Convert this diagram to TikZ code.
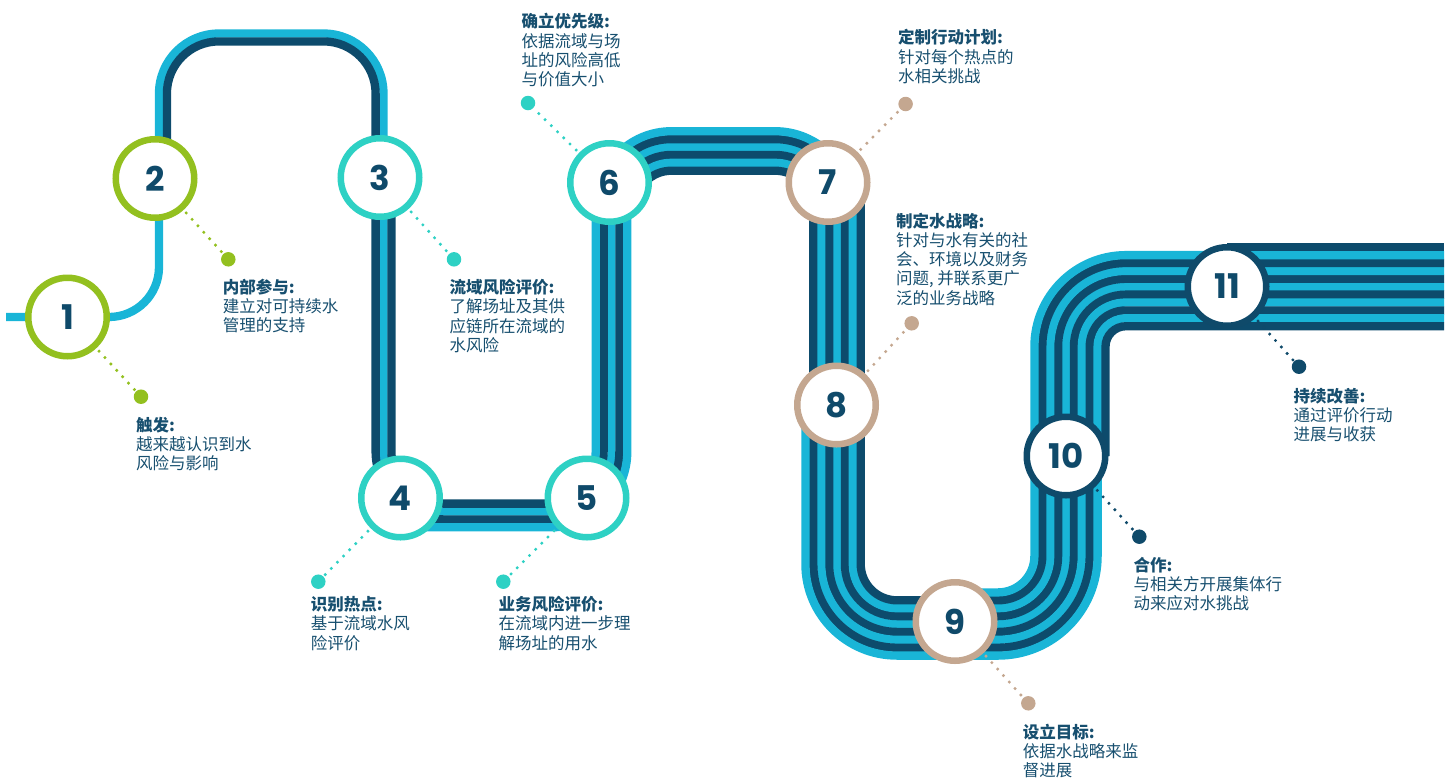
\documentclass[tikz,border=0pt]{standalone}
\usepackage{fontspec}
\setmainfont{Noto Sans CJK SC}
\newfontfamily\numfont{Poppins}
\usetikzlibrary{calc}
\definecolor{lb}{HTML}{19B5D7}
\definecolor{db}{HTML}{0D4B6C}
\definecolor{gr}{HTML}{93C01F}
\definecolor{tl}{HTML}{2ED1C4}
\definecolor{tn}{HTML}{C4A790}
\definecolor{nv}{HTML}{0F4A6A}
\definecolor{tx}{HTML}{174F6F}

\newcommand\laneoff{0}
% corner: name, cx, cy, ux, uy, vx, vy, R
\newcommand\mkc[8]{%
  \pgfmathsetmacro\cpx{#2+(\laneoff)*(-(#5)-(#7))}%
  \pgfmathsetmacro\cpy{#3+(\laneoff)*((#4)+(#6))}%
  \pgfmathsetmacro\crr{#8-(\laneoff)*((#4)*(#7)-(#5)*(#6))}%
  \coordinate (#1a) at ({\cpx-\crr*(#4)},{\cpy-\crr*(#5)});
  \coordinate (#1p) at ({\cpx-0.4477*\crr*(#4)},{\cpy-0.4477*\crr*(#5)});
  \coordinate (#1q) at ({\cpx+0.4477*\crr*(#6)},{\cpy+0.4477*\crr*(#7)});
  \coordinate (#1b) at ({\cpx+\crr*(#6)},{\cpy+\crr*(#7)});
}
\newcommand\setcorners{%
  \mkc{ca}{159}{317}{1}{0}{0}{-1}{50}
  \mkc{cb}{159}{33.5}{0}{-1}{1}{0}{60}
  \mkc{cc}{383.5}{33.5}{1}{0}{0}{1}{60}
  \mkc{cd}{383.5}{511.5}{0}{1}{1}{0}{60}
  \mkc{ce}{611.5}{511.5}{1}{0}{0}{-1}{60}
  \mkc{cf}{611.5}{147}{0}{-1}{1}{0}{60}
  \mkc{cg}{837}{147}{1}{0}{0}{1}{62}
  \mkc{ch}{837}{624}{0}{1}{1}{0}{60}
  \mkc{ci}{1066}{624}{1}{0}{0}{-1}{68}
  \mkc{cj}{1066}{286.7}{0}{-1}{1}{0}{60}
}
\newcommand\C[1]{-- (#1a) .. controls (#1p) and (#1q) .. (#1b)}
\newcommand\lane[4]{%
  \renewcommand\laneoff{#2}\setcorners
  \draw[lanestroke, #1] (#3) #4 -- ({1444},{286.7+(#2)});
}

\begin{document}
\begin{tikzpicture}[x=1pt, y=-1pt,
  lanestroke/.style={line width=8.3pt},
  stepring/.style={circle, draw=#1, line width=6.5pt, fill=white, minimum size=78.5pt, inner sep=0pt,
    font=\numfont\bfseries\fontsize{34}{34}\selectfont, text=nv},
  dotline/.style={line width=3.4pt, line cap=round, dash pattern=on 0pt off 8.7pt, shorten <=4pt},
  bigdot/.style={circle, fill=#1, minimum size=14.5pt, inner sep=0pt},
  lbl/.style={anchor=base west, inner sep=0pt, text=tx, font=\fontsize{16.5}{19.3}\selectfont}]
\useasboundingbox (0,0) rectangle (1454,780);

% lanes
\lane{lb}{0}{6,317}{\C{ca}\C{cb}\C{cc}\C{cd}\C{ce}\C{cf}\C{cg}\C{ch}\C{ci}\C{cj}}
\lane{db}{7.9}{166.9,178.5}{\C{cb}\C{cc}\C{cd}\C{ce}\C{cf}\C{cg}\C{ch}\C{ci}\C{cj}}
\lane{db}{-7.9}{391.4,178}{\C{cd}\C{ce}\C{cf}\C{cg}\C{ch}\C{ci}\C{cj}}
\lane{lb}{15.8}{400,527.3}{\C{ce}\C{cf}\C{cg}\C{ch}\C{ci}\C{cj}}
\lane{lb}{-15.8}{548,495.7}{\C{ce}\C{cf}\C{cg}\C{ch}\C{ci}\C{cj}}
\lane{db}{23.7}{635.2,212}{\C{cf}\C{cg}\C{ch}\C{ci}\C{cj}}
\lane{db}{-23.7}{860.7,196}{\C{ch}\C{ci}\C{cj}}
\lane{lb}{31.6}{805.4,405}{\C{ch}\C{ci}\C{cj}}
\lane{lb}{-31.6}{955,592.4}{\C{ci}\C{cj}}
\lane{db}{39.5}{1105.5,456}{\C{cj}}
\lane{db}{-39.5}{1227,247.2}{}

% step circles
\node[stepring=gr] (n1) at (67.5,317) {1};
\node[stepring=gr] (n2) at (155,178.5) {2};
\node[stepring=tl] (n3) at (380,177.5) {3};
\node[stepring=tl] (n4) at (400.5,498) {4};
\node[stepring=tl] (n5) at (587,498) {5};
\node[stepring=tl] (n6) at (609.5,182.5) {6};
\node[stepring=tn] (n7) at (828,182.5) {7};
\node[stepring=tn] (n8) at (836.5,405) {8};
\node[stepring=tn] (n9) at (955,621.5) {9};
\node[stepring=nv] (n10) at (1066,456) {10};
\node[stepring=nv] (n11) at (1227,286.5) {11};

% end dots
\node[bigdot=gr] (d1) at (141,396.7) {};
\node[bigdot=gr] (d2) at (228.3,259.3) {};
\node[bigdot=tl] (d3) at (454,259.3) {};
\node[bigdot=tl] (d4) at (318.3,581.7) {};
\node[bigdot=tl] (d5) at (503.3,581.7) {};
\node[bigdot=tl] (d6) at (528,103) {};
\node[bigdot=tn] (d7) at (905.6,104) {};
\node[bigdot=tn] (d8) at (911.7,323.3) {};
\node[bigdot=tn] (d9) at (1028.3,703.3) {};
\node[bigdot=nv] (d10) at (1139.3,536.7) {};
\node[bigdot=nv] (d11) at (1299,366.7) {};

% dotted connectors
\draw[dotline, gr] (n1) -- (d1);
\draw[dotline, gr] (n2) -- (d2);
\draw[dotline, tl] (n3) -- (d3);
\draw[dotline, tl] (n4) -- (d4);
\draw[dotline, tl] (n5) -- (d5);
\draw[dotline, tl] (n6) -- (d6);
\draw[dotline, tn] (n7) -- (d7);
\draw[dotline, tn] (n8) -- (d8);
\draw[dotline, tn] (n9) -- (d9);
\draw[dotline, nv] (n10) -- (d10);
\draw[dotline, nv] (n11) -- (d11);

% labels
\node[lbl] (t1) at (136,431.3) {\parbox[t]{200pt}{\textbf{触发:}\\越来越认识到水\\风险与影响}};
\node[lbl] (t2) at (222.7,293) {\parbox[t]{200pt}{\textbf{内部参与:}\\建立对可持续水\\管理的支持}};
\node[lbl] (t3) at (449.3,293.6) {\parbox[t]{200pt}{\textbf{流域风险评价:}\\了解场址及其供\\应链所在流域的\\水风险}};
\node[lbl] (t4) at (310.7,610.6) {\parbox[t]{200pt}{\textbf{识别热点:}\\基于流域水风\\险评价}};
\node[lbl] (t5) at (498.3,610.6) {\parbox[t]{200pt}{\textbf{业务风险评价:}\\在流域内进一步理\\解场址的用水}};
\node[lbl] (t6) at (521.5,27.8) {\parbox[t]{200pt}{\textbf{确立优先级:}\\依据流域与场\\址的风险高低\\与价值大小}};
\node[lbl] (t7) at (898,43.7) {\parbox[t]{200pt}{\textbf{定制行动计划:}\\针对每个热点的\\水相关挑战}};
\node[lbl] (t8) at (896,227) {\parbox[t]{200pt}{\textbf{制定水战略:}\\针对与水有关的社\\会、环境以及财务\\问题, 并联系更广\\泛的业务战略}};
\node[lbl] (t9) at (1022.7,738) {\parbox[t]{200pt}{\textbf{设立目标:}\\依据水战略来监\\督进展}};
\node[lbl] (t10) at (1133.3,571.3) {\parbox[t]{200pt}{\textbf{合作:}\\与相关方开展集体行\\动来应对水挑战}};
\node[lbl] (t11) at (1293.3,402) {\parbox[t]{200pt}{\textbf{持续改善:}\\通过评价行动\\进展与收获}};
\end{tikzpicture}
\end{document}
